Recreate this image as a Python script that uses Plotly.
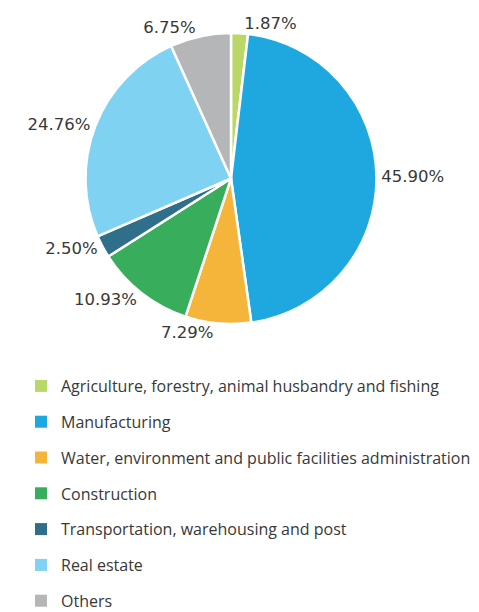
import plotly.graph_objects as go

categories = [
    "Agriculture, forestry, animal husbandry and fishing",
    "Manufacturing",
    "Water, environment and public facilities administration",
    "Construction",
    "Transportation, warehousing and post",
    "Real estate",
    "Others",
]
shares = [1.87, 45.90, 7.29, 10.93, 2.50, 24.76, 6.75]
colors = ["#BAD868", "#1FA8DF", "#F4B53A", "#38AE5C", "#2F6F8A", "#7FD2F1", "#B5B6B8"]

W, H = 479, 612
label_font = dict(family="DejaVu Sans", size=16.5, color="#383838")

fig = go.Figure()
fig.add_trace(go.Pie(
    labels=categories,
    values=shares,
    sort=False,
    direction="clockwise",
    rotation=0,
    marker=dict(colors=colors, line=dict(color="white", width=2.5)),
    textposition="outside",
    texttemplate="%{percent:.2%}",
    textfont=label_font,
    showlegend=False,
    hoverinfo="label+percent",
    domain=dict(x=[77.5 / W, 368.5 / W], y=[1 - 316 / H, 1 - 25 / H]),
))

for name, col in zip(categories, colors):
    fig.add_trace(go.Scatter(
        x=[None], y=[None], mode="markers",
        marker=dict(symbol="square", size=12, color=col),
        name=name, legendgroup=name, showlegend=True,
        hoverinfo="skip",
    ))

fig.update_layout(
    width=W, height=H,
    margin=dict(l=0, r=0, t=0, b=0, autoexpand=False),
    paper_bgcolor="white",
    plot_bgcolor="white",
    xaxis=dict(visible=False, range=[0, 1], autorange=False),
    yaxis=dict(visible=False, range=[0, 1], autorange=False),
    legend=dict(
        orientation="v",
        xref="container", yref="container",
        x=13 / W, xanchor="left",
        y=1 - 361 / H, yanchor="top",
        font=dict(family="Open Sans", size=16, color="#383838"),
        tracegroupgap=12,
        itemsizing="trace",
        bgcolor="rgba(0,0,0,0)",
    ),
)

fig.write_html("out.html")
